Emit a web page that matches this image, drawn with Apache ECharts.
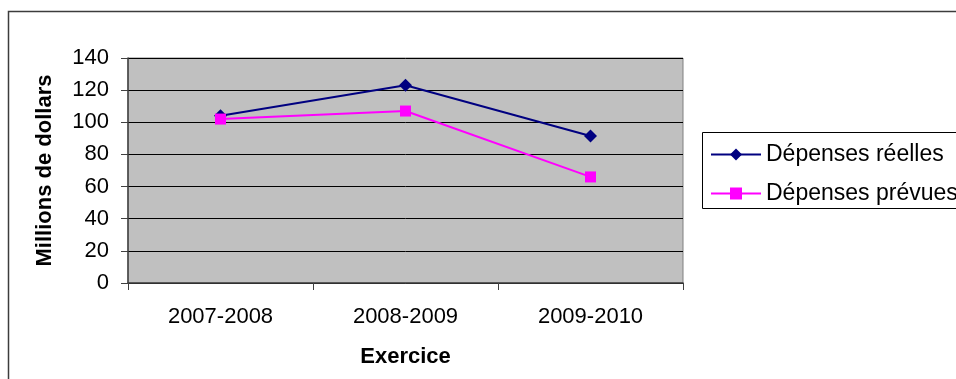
<!DOCTYPE html>
<html>
<head>
<meta charset="utf-8">
<script src="https://cdn.jsdelivr.net/npm/echarts@6/dist/echarts.min.js"></script>
<style>
  html, body { margin: 0; padding: 0; background: #ffffff; }
  #chart { width: 956px; height: 379px; }
</style>
</head>
<body>
<div id="chart"></div>
<script>
// Exercices (fiscal years) on the category axis
const exercices = ['2007-2008', '2008-2009', '2009-2010'];
// Spending, in millions of dollars
const depensesReelles = [104, 123, 91.5];
const depensesPrevues = [102, 107, 66];
// Value axis range
const yMin = 0;
const yMax = 140;
const yStep = 20;

const FONT = 'Arial, "Liberation Sans", sans-serif';

const chart = echarts.init(document.getElementById('chart'), null, { renderer: 'canvas' });

chart.setOption({
  backgroundColor: '#ffffff',
  animation: false,
  textStyle: { fontFamily: FONT, color: '#000000' },
  graphic: [
    {
      // outer chart frame
      type: 'rect',
      shape: { x: 8.5, y: 11.5, width: 1000, height: 500 },
      style: { fill: 'none', stroke: '#3c3c3c', lineWidth: 1.5 },
      silent: true,
      z: 0
    },
    {
      // legend frame
      type: 'rect',
      shape: { x: 702.5, y: 132.5, width: 300, height: 76 },
      style: { fill: '#ffffff', stroke: '#000000', lineWidth: 1 },
      silent: true,
      z: 1
    }
  ],
  grid: {
    left: 128,
    top: 58,
    right: 273,
    bottom: 96,
    show: true,
    backgroundColor: '#c0c0c0',
    borderColor: '#808080',
    borderWidth: 1
  },
  legend: {
    orient: 'vertical',
    left: 710,
    top: 143,
    itemWidth: 50,
    itemHeight: 15,
    itemGap: 16,
    padding: 0,
    textStyle: { fontFamily: FONT, fontSize: 23, lineHeight: 23, color: '#000000', padding: [0, 0, 0, 0] },
    z: 5,
    data: ['Dépenses réelles', 'Dépenses prévues']
  },
  xAxis: {
    type: 'category',
    data: exercices,
    boundaryGap: true,
    name: 'Exercice',
    nameLocation: 'middle',
    nameGap: 63,
    nameTextStyle: { fontFamily: FONT, fontSize: 22, fontWeight: 'bold', color: '#000000' },
    axisLine: { show: true, lineStyle: { color: '#404040', width: 1.5 } },
    axisTick: { show: true, alignWithLabel: false, length: 7, lineStyle: { color: '#404040' } },
    axisLabel: { fontFamily: FONT, fontSize: 22, color: '#000000', margin: 23 },
    splitLine: { show: false }
  },
  yAxis: {
    type: 'value',
    min: yMin,
    max: yMax,
    interval: yStep,
    name: 'Millions de dollars',
    nameLocation: 'middle',
    nameGap: 72,
    nameTextStyle: { fontFamily: FONT, fontSize: 22, fontWeight: 'bold', color: '#000000' },
    axisLine: { show: true, lineStyle: { color: '#404040', width: 1.5 } },
    axisTick: { show: true, length: 7, lineStyle: { color: '#404040' } },
    axisLabel: { fontFamily: FONT, fontSize: 22, color: '#000000', margin: 19 },
    splitLine: { show: true, lineStyle: { color: '#000000', width: 1 } }
  },
  series: [
    {
      name: 'Dépenses réelles',
      type: 'line',
      data: depensesReelles,
      symbol: 'diamond',
      symbolSize: 13,
      lineStyle: { color: '#000080', width: 2 },
      itemStyle: { color: '#000080' },
      z: 3
    },
    {
      name: 'Dépenses prévues',
      type: 'line',
      data: depensesPrevues,
      symbol: 'rect',
      symbolSize: 11,
      lineStyle: { color: '#ff00ff', width: 2 },
      itemStyle: { color: '#ff00ff' },
      z: 4
    }
  ]
});
</script>
</body>
</html>
